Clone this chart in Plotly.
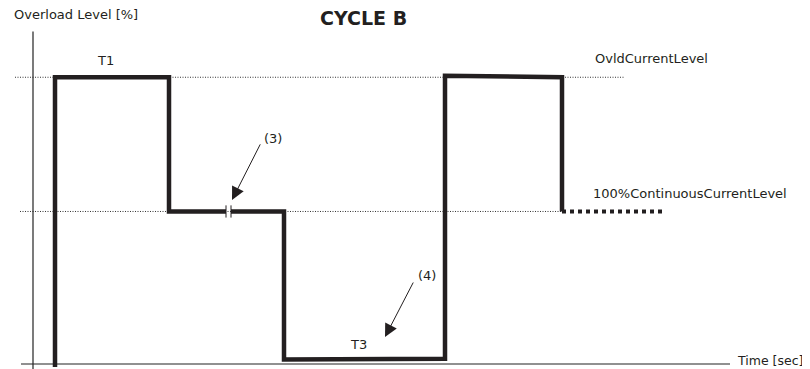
import plotly.graph_objects as go

# time axis is in arbitrary units, level in % (100 = continuous current level)
cycle_t = [22, 22, 136, 136, 193, None, 198, 251, 251, 412, 412, 529, 529]
cycle_lvl = [-2, 188, 188, 100, 100, None, 100, 100, 3, 3.5, 189, 188, 100]

tail_t = [529, 632]
tail_lvl = [100, 100]

break_t = [193, 193, None, 198, 198]
break_lvl = [96, 104, None, 96, 104]

ovld_ref_t = [-18, 592]
ovld_ref_lvl = [188, 188]
cont_ref_t = [-13, 530]
cont_ref_lvl = [100, 100]

xaxis_t = [-12, 697]
xaxis_lvl = [0, 0]
yaxis_t = [0, 0]
yaxis_lvl = [-4, 218]

dark = "#231f20"
font_name = "DejaVu Sans"

fig = go.Figure()

def add_line(x, y, width, color, dash="solid"):
    fig.add_trace(go.Scatter(x=x, y=y, mode="lines", hoverinfo="skip", showlegend=False,
                             line=dict(color=color, width=width, dash=dash)))

add_line(ovld_ref_t, ovld_ref_lvl, 1, "#333333", "1px,1.5px")
add_line(cont_ref_t, cont_ref_lvl, 1, "#333333", "1px,1.5px")
add_line(xaxis_t, xaxis_lvl, 1.2, "#222222")
add_line(yaxis_t, yaxis_lvl, 1.2, "#222222")
add_line(cycle_t, cycle_lvl, 4.5, dark)
add_line(tail_t, tail_lvl, 4, dark, "4px,4px")
add_line(break_t, break_lvl, 1, dark)

def label(x, y, text, xanchor="center", size=13, bold=False, pad=1):
    fig.add_annotation(x=x, y=y, text="<b>%s</b>" % text if bold else text, showarrow=False,
                       xanchor=xanchor, yanchor="middle", borderpad=pad,
                       font=dict(family=font_name, size=size, color="#231f20"))

label(-21, 229, "Overload Level [%]", xanchor="left")
label(330, 227, "CYCLE B", size=19, bold=True)
label(72, 199, "T1")
label(560, 200, "OvldCurrentLevel", xanchor="left")
label(558, 112, "100%ContinuousCurrentLevel", xanchor="left")
label(240, 148, "(3)")
label(394, 58, "(4)")
label(325, 13, "T3")
label(703, 2, "Time [sec]", xanchor="left", size=12.5, pad=0)

# arrows pointing to notes (3) and (4)
for tip_t, tip_l, tail_tt, tail_ll in [(199, 107.5, 228, 145), (352, 17.7, 381, 54.4)]:
    fig.add_annotation(x=tip_t, y=tip_l, ax=tail_tt, ay=tail_ll, axref="x", ayref="y",
                       text="", showarrow=True, arrowhead=2, arrowsize=2.6, arrowwidth=1,
                       arrowcolor=dark, standoff=0)

# the page body adds an 8px margin, so the figure is 8px smaller than the window
fig.update_layout(
    width=802, height=361,
    margin=dict(l=0, r=0, t=0, b=0),
    paper_bgcolor="white", plot_bgcolor="white",
    xaxis=dict(range=[-25, 777], visible=False, fixedrange=True),
    yaxis=dict(range=[-3.28, 233.4], visible=False, fixedrange=True),
)

fig.write_html("out.html")
